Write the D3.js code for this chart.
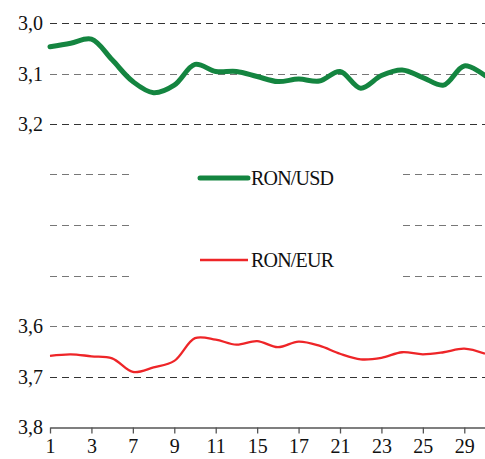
<!DOCTYPE html>
<html>
<head>
<meta charset="utf-8">
<script src="https://cdn.jsdelivr.net/npm/d3@7"></script>
<style>
  body { margin: 0; background: #fff; }
  text { font-family: "Times New Roman", "Liberation Serif", serif; fill: #111; }
</style>
</head>
<body>
<div id="chart"></div>
<script>
var svgWidth = 485;
var svgHeight = 459;
var margin = { top: 23, right: 0, bottom: 32, left: 50 };
var width = svgWidth - margin.left - margin.right;
var height = svgHeight - margin.top - margin.bottom;

// trading days of the month
var days = [1, 2, 3, 4, 7, 8, 9, 10, 11, 14, 15, 16, 17, 18, 21, 22, 23, 24, 25, 28, 29, 30];
var dayLabels = [1, 3, 7, 9, 11, 15, 17, 21, 23, 25, 29];
var ronUsd = [3.047, 3.040, 3.032, 3.073, 3.116, 3.138, 3.123, 3.082, 3.096, 3.096,
              3.106, 3.116, 3.111, 3.115, 3.096, 3.129, 3.104, 3.093, 3.108, 3.123, 3.085, 3.104];
var ronEur = [3.659, 3.656, 3.660, 3.664, 3.691, 3.682, 3.669, 3.624, 3.627, 3.637,
              3.630, 3.642, 3.631, 3.639, 3.655, 3.666, 3.663, 3.652, 3.656, 3.652, 3.645, 3.655];
var yTicks = [3.0, 3.1, 3.2, 3.3, 3.4, 3.5, 3.6, 3.7, 3.8];
var yTickLabels = ["3,0", "3,1", "3,2", "", "", "", "3,6", "3,7", "3,8"];
var seriesNames = ["RON/USD", "RON/EUR"];
var seriesColors = ["#148540", "#ee2528"];
var serif = "'Times New Roman', 'Liberation Serif', serif";

var svg = d3.select("#chart")
    .append("svg")
    .attr("width", svgWidth)
    .attr("height", svgHeight);

var chartGroup = svg.append("g")
    .attr("transform", `translate(${margin.left}, ${margin.top})`);

var xScale = d3.scalePoint()
    .domain(days)
    .range([0, width]);

var yScale = d3.scaleLinear()
    .domain([3.0, 3.8])
    .range([0, height]);

// dashed gridlines, broken in the middle where the legend sits
yTicks.forEach(function(t, i) {
    if (t === 3.8) return;
    var y = Math.round(yScale(t)) + 0.5;
    var gray = (t >= 3.3 && t <= 3.6) || t === 3.1 ? "#777" : "#333";
    var segs = (t >= 3.3 && t <= 3.5) ? [[0, 82], [353, width]] : [[0, width]];
    segs.forEach(function(s) {
        chartGroup.append("line")
            .attr("x1", s[0]).attr("x2", s[1])
            .attr("y1", y).attr("y2", y)
            .attr("stroke", gray)
            .attr("stroke-width", 1.2)
            .attr("stroke-dasharray", "7,5");
    });
});

// y labels
chartGroup.selectAll(".ylab")
    .data(yTicks)
    .enter()
    .append("text")
    .attr("class", "ylab")
    .attr("x", -7)
    .attr("y", d => yScale(d) + 7)
    .attr("text-anchor", "end")
    .style("font-family", serif)
    .style("font-size", "20px")
    .text((d, i) => yTickLabels[i]);

// x axis
var bottomAxis = d3.axisBottom(xScale)
    .tickValues(dayLabels)
    .tickSize(6)
    .tickSizeOuter(0);

var xAxis = chartGroup.append("g")
    .attr("transform", `translate(0, ${Math.round(height) + 0.5})`)
    .call(bottomAxis);
xAxis.attr("font-family", null);
xAxis.select(".domain").attr("stroke", "#555").attr("stroke-width", 1.3);
xAxis.selectAll(".tick line").attr("stroke", "#555").attr("stroke-width", 1.3);
xAxis.selectAll(".tick text")
    .attr("y", 11)
    .attr("dy", "0.71em")
    .style("font-size", "20px")
    .style("fill", "#111")
    .style("font-family", serif);

var line = d3.line()
    .x((d, i) => xScale(days[i]))
    .y(d => yScale(d))
    .curve(d3.curveCatmullRom.alpha(0.5));

chartGroup.append("path")
    .datum(ronUsd)
    .attr("fill", "none")
    .attr("stroke", seriesColors[0])
    .attr("stroke-width", 5)
    .attr("stroke-linecap", "round")
    .attr("d", line);

chartGroup.append("path")
    .datum(ronEur)
    .attr("fill", "none")
    .attr("stroke", seriesColors[1])
    .attr("stroke-width", 2.3)
    .attr("d", line);

// legend
var legend = [
    { y: 178, w: 5 },
    { y: 260, w: 2.3 }
];
legend.forEach(function(l, i) {
    svg.append("line")
        .attr("x1", 200).attr("x2", 248)
        .attr("y1", l.y).attr("y2", l.y)
        .attr("stroke", seriesColors[i])
        .attr("stroke-width", l.w)
        .attr("stroke-linecap", i === 0 ? "round" : "butt");
    svg.append("text")
        .attr("x", 251)
        .attr("y", l.y + 7)
        .style("font-family", serif)
        .style("font-size", "20px")
        .style("letter-spacing", "-0.8px")
        .text(seriesNames[i]);
});
</script>
</body>
</html>
